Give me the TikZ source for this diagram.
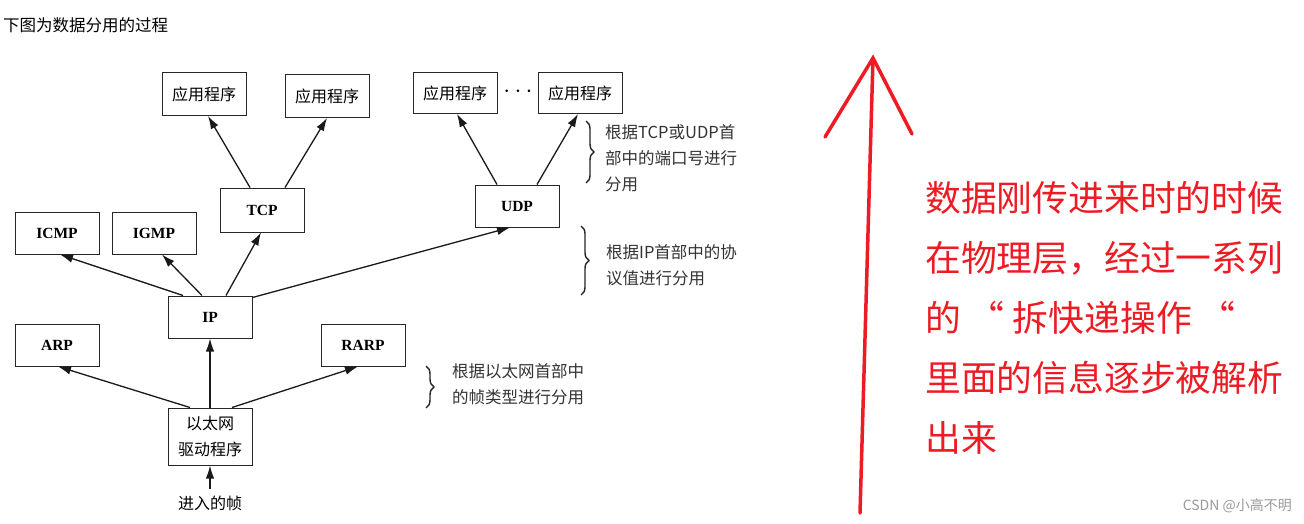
\documentclass[tikz,border=0pt]{standalone}
\usepackage{fontspec}
\setmainfont{Liberation Serif}
\newfontfamily\cjk{Noto Sans CJK SC}
\usetikzlibrary{arrows.meta,decorations.pathreplacing}
\definecolor{redmark}{HTML}{ED1C24}
\definecolor{wmgray}{HTML}{9A9A9A}
\tikzset{
  box/.style={draw=black!85, line width=1pt, minimum width=84pt, minimum height=43pt, inner sep=0pt, font=\fontsize{15.5}{18}\selectfont\bfseries},
  cbox/.style={box, font=\cjk\fontsize{16}{18}\selectfont},
  arr/.style={-{Latex[length=13pt,width=8.5pt]}, line width=1.3pt, black!90},
  note/.style={anchor=west, align=left, inner sep=0pt, font=\cjk\fontsize{16.5}{26}\selectfont, text=black!80},
  brc/.style={decorate, decoration={brace, amplitude=8pt}, line width=1.4pt, black!85},
  redline/.style={draw=redmark, line width=3.5pt, line cap=round}
}
\begin{document}
\begin{tikzpicture}[x=1pt,y=-1pt]
\useasboundingbox (0,0) rectangle (1304,524);
\fill[white] (0,0) rectangle (1304,524);
% title
\node[anchor=west, inner sep=0pt, font=\cjk\fontsize{16.5}{18}\selectfont] (title) at (3,25) {下图为数据分用的过程};
% application boxes
\node[cbox] (app1) at (204,94) {应用程序};
\node[cbox] (app2) at (327,96) {应用程序};
\node[cbox, minimum height=41pt] (app3) at (455,93) {应用程序};
\node[cbox, minimum height=41pt] (app4) at (580,93) {应用程序};
\node[inner sep=0pt, font=\fontsize{26}{26}\selectfont\bfseries] (dots) at (518,92) {$\cdots$};
% transport
\node[box, minimum height=44pt] (tcp) at (262,210) {TCP};
\node[box, minimum height=42pt] (udp) at (517,206) {UDP};
% network
\node[box, minimum height=42pt] (icmp) at (57,233) {ICMP};
\node[box, minimum height=42pt] (igmp) at (154,233) {IGMP};
\node[box, minimum height=42pt] (ip) at (210,317) {IP};
% link
\node[box, minimum height=42pt] (arp) at (57,345) {ARP};
\node[box, minimum height=42pt] (rarp) at (363,345) {RARP};
\node[cbox, minimum height=57pt, align=center, font=\cjk\fontsize{16}{26}\selectfont] (eth) at (210,436.5) {以太网\\驱动程序};
\node[inner sep=0pt, font=\cjk\fontsize{16}{18}\selectfont] (frame) at (210,503) {进入的帧};
\coordinate (fin) at (210,489);
% arrows
\draw[arr] ([xshift=-12pt]tcp.north) -- ([xshift=4pt]app1.south);
\draw[arr] ([xshift=23pt]tcp.north) -- (app2.south);
\draw[arr] ([xshift=-20pt]udp.north) -- ([xshift=2pt]app3.south);
\draw[arr] ([xshift=20pt]udp.north) -- ([xshift=-2pt]app4.south);
\draw[arr] ([xshift=-27pt]ip.north) -- ([xshift=3pt]icmp.south);
\draw[arr] ([xshift=-8pt]ip.north) -- ([xshift=8pt]igmp.south);
\draw[arr] ([xshift=16pt]ip.north) -- ([xshift=-1pt]tcp.south);
\draw[arr] ([yshift=-2pt]ip.north east) -- ([xshift=-7pt]udp.south);
\draw[arr] ([xshift=-20pt]eth.north) -- ([xshift=1pt]arp.south);
\draw[arr] (eth.north) -- (ip.south);
\draw[arr] ([xshift=22pt]eth.north) -- ([xshift=-5pt]rarp.south);
\draw[arr] (fin) -- (eth.south);
% braces and notes
\coordinate (b1t) at (586,121); \coordinate (b1b) at (586,183);
\draw[brc] (b1t) -- (b1b);
\node[note] (n1) at (605,158) {根据TCP或UDP首\\部中的端口号进行\\分用};
\coordinate (b2t) at (581,226); \coordinate (b2b) at (581,295);
\draw[brc] (b2t) -- (b2b);
\node[note] (n2) at (606,265) {根据IP首部中的协\\议值进行分用};
\coordinate (b3t) at (426,366); \coordinate (b3b) at (426,408);
\draw[brc] (b3t) -- (b3b);
\node[note] (n3) at (452,384) {根据以太网首部中\\的帧类型进行分用};
% red arrow
\coordinate (rtail) at (860,513);
\coordinate (rtip) at (873,58);
\coordinate (rl) at (825,137);
\coordinate (rr) at (912,134);
\draw[redline] (rtail) -- (rtip);
\draw[redline] (rl) -- (rtip) -- (rr);
% red text
\node[anchor=west, align=left, inner sep=0pt, text=redmark, font=\cjk\fontsize{35.8}{60}\selectfont] (expl) at (925,318) {数据刚传进来时的时候\\在物理层，经过一系列\\的 “ 拆快递操作 “\\里面的信息逐步被解析\\出来};
% watermark
\node[anchor=east, inner sep=0pt, text=wmgray, font=\fontsize{14}{16}\selectfont\cjk] (wm) at (1292,506) {CSDN @小高不明};
\end{tikzpicture}
\end{document}
